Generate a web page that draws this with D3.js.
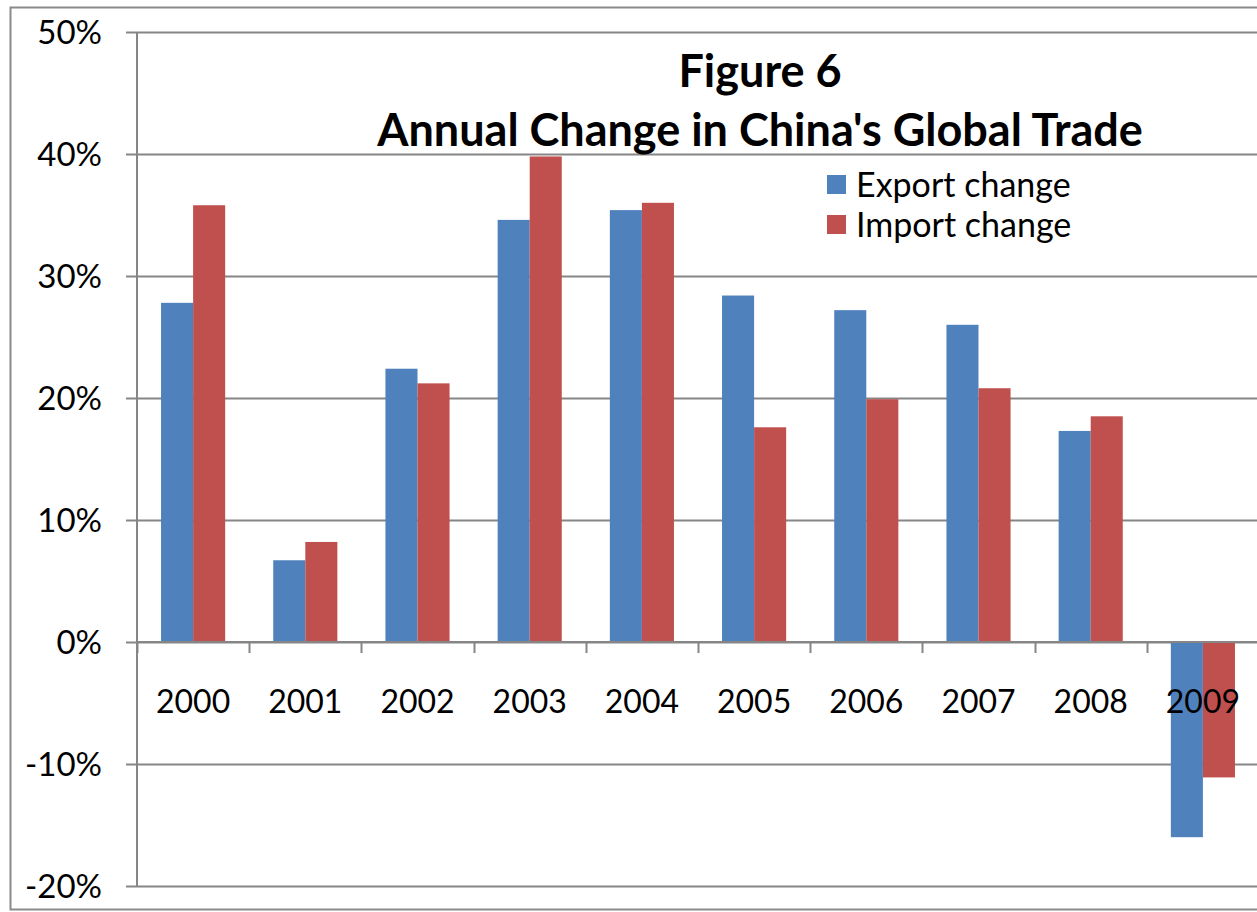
<!DOCTYPE html>
<html><head><meta charset="utf-8">
<script src="https://cdn.jsdelivr.net/npm/d3@7"></script>
<style>
html,body{margin:0;padding:0;background:#fff;}
svg{display:block;font-family:Lato, "Open Sans", sans-serif;}
</style></head>
<body>
<svg id="c" width="1257" height="912"></svg>
<script>
const years = ["2000","2001","2002","2003","2004","2005","2006","2007","2008","2009"];
const exportChange = [0.278, 0.067, 0.224, 0.346, 0.354, 0.284, 0.272, 0.260, 0.173, -0.160];
const importChange = [0.358, 0.082, 0.212, 0.398, 0.360, 0.176, 0.199, 0.208, 0.185, -0.111];
const yTicks = [-0.2, -0.1, 0, 0.1, 0.2, 0.3, 0.4, 0.5];
const seriesNames = ["Export change", "Import change"];
const colors = ["#4F81BD", "#C0504D"];
const titleLines = ["Figure 6", "Annual Change in China's Global Trade"];

const svg = d3.select("#c");
const L = 137, T = 32, B = 886, R = 1259;

// outer frame
svg.append("rect").attr("x",10.5).attr("y",7.5).attr("width",1300).attr("height",902)
  .attr("fill","none").attr("stroke","#8a8a8a").attr("stroke-width",2);

const y = d3.scaleLinear().domain([-0.2,0.5]).range([B,T]);
const x = d3.scaleBand().domain(years).range([L,R]).padding(0);

// gridlines
svg.append("g").selectAll("line").data(yTicks).join("line")
  .attr("x1",L).attr("x2",R).attr("y1",d=>Math.round(y(d))+0.5).attr("y2",d=>Math.round(y(d))+0.5)
  .attr("stroke","#868686").attr("stroke-width",2);

// y axis
const pct = d => d3.format(".0%")(d).replace("\u2212","-");
const yAxis = d3.axisLeft(y).tickValues(yTicks).tickFormat(pct).tickSize(11).tickPadding(24);
const gy = svg.append("g").attr("transform",`translate(${L},0)`).call(yAxis);
gy.select(".domain").attr("stroke","#868686").attr("stroke-width",2).attr("d",`M0,${T}V${B}`);
gy.selectAll(".tick line").attr("stroke","#868686").attr("stroke-width",2);
gy.selectAll(".tick text").attr("font-size",33).attr("fill","#000").attr("dy","0.36em")
  .style("font-family","Lato");

// bars
const step = x.step();
const bw = step/3.5;
const series = [exportChange, importChange];
series.forEach((vals,si)=>{
  svg.append("g").selectAll("rect").data(years.map((yr,i)=>({yr,v:vals[i]}))).join("rect")
    .attr("x",d=>x(d.yr)+step*0.75/3.5+si*bw)
    .attr("width",bw)
    .attr("y",d=>y(Math.max(0,d.v)))
    .attr("height",d=>Math.abs(y(d.v)-y(0)))
    .attr("fill",colors[si]);
});

// x axis at 0
const xAxis = d3.axisBottom(x).tickSize(0).tickFormat(d=>d);
const gx = svg.append("g").attr("transform",`translate(0,${y(0)})`).call(xAxis);
gx.select(".domain").attr("stroke","#868686").attr("stroke-width",2).attr("d",`M${L},0H${R}`);
gx.selectAll(".tick text").attr("font-size",32).attr("fill","#000").attr("y",48).attr("dy","0.71em")
  .style("font-family","Lato");
// category boundary ticks
svg.append("g").selectAll("line").data(years).join("line")
  .attr("x1",d=>Math.round(x(d))+0.5).attr("x2",d=>Math.round(x(d))+0.5)
  .attr("y1",y(0)).attr("y2",y(0)+11)
  .attr("stroke","#868686").attr("stroke-width",2);

// title
svg.append("g").selectAll("text").data(titleLines).join("text")
  .attr("x",760).attr("y",(d,i)=>i===0?87:146)
  .attr("text-anchor","middle").attr("font-weight","bold").attr("font-size",45)
  .attr("fill","#000").text(d=>d);

// legend
const lg = svg.append("g");
seriesNames.forEach((n,i)=>{
  lg.append("rect").attr("x",827).attr("y",175+i*40).attr("width",19).attr("height",19).attr("fill",colors[i]);
  lg.append("text").attr("x",856).attr("y",197+i*40).attr("font-size",34).attr("fill","#000").text(n);
});
</script>
</body></html>
